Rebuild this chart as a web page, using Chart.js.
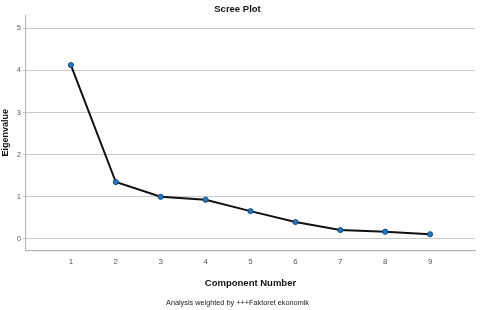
<!DOCTYPE html>
<html><head><meta charset="utf-8">
<script src="https://cdn.jsdelivr.net/npm/chart.js@4/dist/chart.umd.min.js"></script>
<style>html,body{margin:0;padding:0;background:#fff}#wrap{width:480px;height:310px}</style>
</head><body><div id="wrap"><canvas id="c" width="480" height="310"></canvas></div>
<script>
const components = [1,2,3,4,5,6,7,8,9];
const eigenvalues = [4.13,1.35,1.00,0.93,0.66,0.40,0.21,0.17,0.11];
const yTicks = [0,1,2,3,4,5];
const xTicks = [1,2,3,4,5,6,7,8,9];
const chartTitle = 'Scree Plot';
const xTitle = 'Component Number';
const yTitle = 'Eigenvalue';
const footnote = 'Analysis weighted by +++Faktoret ekonomik';

const F = '"Liberation Sans", Arial, sans-serif';
new Chart(document.getElementById('c'), {
  type: 'line',
  data: {
    datasets: [{
      data: components.map((c,i)=>({x:c,y:eigenvalues[i]})),
      borderColor: '#111',
      borderWidth: 2,
      pointBackgroundColor: '#1f78c8',
      pointBorderColor: '#0d3a66',
      pointBorderWidth: 0.8,
      pointRadius: 2.6,
      tension: 0
    }]
  },
  options: {
    responsive: false,
    animation: false,
    layout: {padding: {left: 0, right: 5, top: 0, bottom: 1}},
    plugins: {
      legend: {display: false},
      tooltip: {enabled: false},
      title: {display: true, text: chartTitle, color: '#111', font: {family: F, size: 9.5, weight: 'bold'}, padding: {top: 4, bottom: 0}},
      subtitle: {display: true, position: 'bottom', text: footnote, color: '#222', font: {family: F, size: 7.3}, padding: {top: 0, bottom: 2}}
    },
    scales: {
      x: {
        type: 'linear', min: 0, max: 10,
        afterBuildTicks: s => { s.ticks = xTicks.map(v=>({value:v})); },
        grid: {display: false, drawTicks: false},
        border: {color: '#b5b5b5', width: 1.2},
        ticks: {color: '#555', font: {family: F, size: 8}, padding: 7},
        title: {display: true, text: xTitle, color: '#111', font: {family: F, size: 9.5, weight: 'bold'}, padding: {top: 4, bottom: 9}}
      },
      y: {
        type: 'linear', min: -0.27, max: 5.31,
        afterBuildTicks: s => { s.ticks = yTicks.map(v=>({value:v})); },
        afterFit: s => { s.width = 26; },
        grid: {color: '#c9c9c9', lineWidth: 1, tickLength: 3, tickColor: '#c9c9c9'},
        border: {color: '#b5b5b5', width: 1.2},
        ticks: {color: '#555', font: {family: F, size: 7}, padding: 2},
        title: {display: true, text: yTitle, color: '#111', font: {family: F, size: 9, weight: 'bold'}, padding: {top: 0, bottom: 2}}
      }
    }
  }
});
</script></body></html>
